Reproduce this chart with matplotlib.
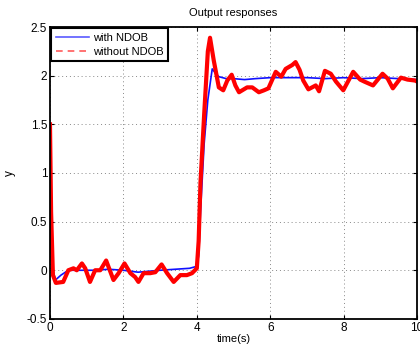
import matplotlib
matplotlib.use("Agg")
import matplotlib.pyplot as plt
from matplotlib.lines import Line2D

plt.rcParams["font.family"] = ["Liberation Sans", "DejaVu Sans"]

# with NDOB (blue)
t_ndob = [0, 0.03, 0.08, 0.15, 0.3, 0.5, 0.8, 1.2, 1.6, 2.0, 2.4, 2.7, 3.0, 3.4, 3.8,
          4.0, 4.05, 4.1, 4.2, 4.3, 4.42, 4.5, 4.6, 4.8, 5.0, 5.3, 5.6, 6.0, 6.5,
          7.0, 7.5, 8.0, 8.5, 9.0, 9.5, 10]
y_ndob = [1.5, 0.6, 0.0, -0.1, -0.05, 0.0, 0.0, 0.0, 0.01, 0.0, -0.02, -0.01, 0.0, 0.01, 0.02,
          0.04, 0.15, 0.6, 1.3, 1.75, 2.07, 2.03, 1.99, 1.97, 1.97, 1.96, 1.97, 1.98, 1.98,
          1.98, 1.97, 1.98, 1.97, 1.98, 1.97, 1.96]

# without NDOB (red)
t_raw = [0, 0.03, 0.08, 0.16, 0.36, 0.5, 0.64, 0.73, 0.87, 0.96, 1.09, 1.23, 1.37, 1.53,
         1.6, 1.73, 1.87, 2.03, 2.19, 2.32, 2.41, 2.55, 2.73, 2.87, 3.04, 3.19, 3.37,
         3.55, 3.73, 3.87, 4.0, 4.05, 4.1, 4.2, 4.3, 4.36, 4.46, 4.6, 4.72, 4.83, 4.95,
         5.05, 5.15, 5.37, 5.51, 5.69, 5.83, 5.95, 6.15, 6.3, 6.42, 6.6, 6.69, 6.8,
         6.9, 7.04, 7.24, 7.33, 7.49, 7.65, 7.79, 7.99, 8.26, 8.45, 8.56, 8.8, 9.06,
         9.2, 9.34, 9.56, 9.74, 9.95, 10]
y_raw = [1.5, 0.6, -0.05, -0.13, -0.12, 0.0, 0.02, 0.0, 0.07, 0.02, -0.12, 0.0, 0.0, 0.1,
         0.03, -0.1, -0.03, 0.07, -0.03, -0.07, -0.12, -0.03, -0.03, -0.02, 0.06, -0.03, -0.12,
         -0.05, -0.05, -0.03, 0.02, 0.3, 0.9, 1.6, 2.25, 2.39, 2.16, 1.88, 1.85, 1.95, 2.01,
         1.9, 1.83, 1.88, 1.88, 1.83, 1.85, 1.87, 2.04, 1.99, 2.07, 2.11, 2.14, 2.06,
         1.95, 1.86, 1.9, 1.84, 2.05, 2.02, 1.94, 1.85, 2.04, 1.96, 1.94, 1.9, 2.02,
         1.97, 1.87, 1.98, 1.96, 1.95, 1.94]

x_ticks = [0, 2, 4, 6, 8, 10]
y_ticks = [-0.5, 0, 0.5, 1, 1.5, 2, 2.5]
y_labels = ["-0.5", "0", "0.5", "1", "1.5", "2", "2.5"]

fig = plt.figure(figsize=(4.2, 3.47), dpi=100)
ax = fig.add_axes([0.119, 0.081, 0.874, 0.841])

ax.plot(t_ndob, y_ndob, color="#1010ff", lw=1.2)
ax.plot(t_raw, y_raw, color="#ff0000", lw=3.0, solid_joinstyle="round")

ax.set_xlim(0, 10)
ax.set_ylim(-0.5, 2.5)
ax.set_xticks(x_ticks)
ax.set_yticks(y_ticks)
ax.set_yticklabels(y_labels)
ax.tick_params(direction="in", labelsize=8.5, length=3, top=True, right=True, pad=2)
ax.grid(True, linestyle=(0, (1, 3)), color="#888888", linewidth=0.7)
for s in ax.spines.values():
    s.set_linewidth(1.3)

ax.set_title("Output responses", fontsize=8, pad=8)
ax.set_xlabel("time(s)", fontsize=8, labelpad=0)
ax.set_ylabel("y", fontsize=8.5, labelpad=8)

handles = [Line2D([], [], color="#5a5aff", lw=1.2),
           Line2D([], [], color="#ff5a5a", lw=1.2, ls=(0, (4, 3)))]
leg = ax.legend(handles, ["with NDOB", "without NDOB"], loc="upper left", fontsize=8,
                fancybox=False, framealpha=1, borderaxespad=0.1, handlelength=3.0,
                handletextpad=0.4, borderpad=0.4, labelspacing=0.35)
leg.get_frame().set_edgecolor("black")
leg.get_frame().set_linewidth(1.5)

fig.savefig("out.png", dpi=100)
